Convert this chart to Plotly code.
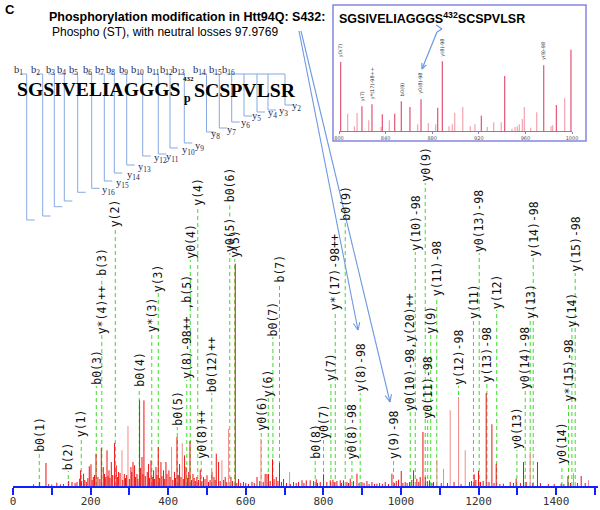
import math
import plotly.graph_objects as go

# ------------------------------------------------------------------ data
# main spectrum (m/z, intensity in arbitrary units)
red_mz = [53, 68.6, 85, 92, 100, 113, 122, 130, 143.4, 152, 160, 165, 171.7, 174.3, 177, 182, 185, 189, 193,
          196.6, 201, 204, 207, 210, 214, 219, 224, 227.6, 232.7, 236, 239, 242.3, 245, 247.4, 250, 253.4, 257,
          261.9, 266.2, 269, 272.2, 276, 283, 286.9, 290, 293, 300, 304, 306, 309.3, 313.4, 316, 319.6, 322,
          326.3, 329, 332.5, 335, 337.5, 341, 346, 349.5, 352, 355.7, 359, 362.4, 365, 368.6, 371, 374.5, 378,
          381.4, 384, 388.1, 391, 394.3, 397, 402, 405, 412, 416.5, 419, 422.7, 426, 429.4, 433, 439, 442.3,
          445.9, 450, 453, 456.2, 460, 463.9, 467, 470, 474, 478, 482.7, 487, 491, 495, 500, 504, 508, 512.9,
          518, 521, 524, 530, 534, 543, 547, 551, 561.9, 566, 573, 577, 581.4, 587, 594, 600, 607, 616, 622,
          629, 636, 645, 650, 654.6, 658.8, 663, 669, 673, 678.6, 683, 687, 692, 697.4, 705, 715, 723, 730, 736,
          745, 750, 756, 766, 774.8, 781.7, 785, 792, 800.5, 809, 817.8, 824.7, 828, 835, 843.6, 847, 852, 860.8,
          865, 869.3, 877.8, 886.6, 892, 899.5, 905, 912.4, 918, 925.3, 932, 938, 945, 952, 959.5, 968, 976.8,
          983, 988, 993.8, 1000.8, 1005, 1011, 1016, 1022, 1028, 1032.5, 1041, 1046, 1049.7, 1056.7, 1062.6,
          1068, 1073.7, 1080, 1084, 1104, 1120, 1137, 1155, 1176.8, 1182, 1188.9, 1193, 1200, 1205, 1212,
          1219.8, 1227, 1234.5, 1240, 1245.6, 1255, 1264, 1281.7, 1290, 1297, 1308, 1316, 1323, 1340, 1352,
          1360, 1380, 1395, 1413, 1420, 1430.4, 1437, 1455, 1464.7, 1475]
red_int = [1.7, 4, 23, 2, 1.5, 3.3, 1.7, 2, 5, 4, 3, 4, 7.3, 15.7, 5, 12.3, 6, 4, 8,
           19.7, 21.7, 6, 9, 11, 32.3, 9, 7, 38, 19, 12, 9, 35.7, 10, 15.7, 8, 24, 11,
           43, 20.7, 9, 14, 13, 6, 12, 8, 11, 7, 19, 14, 24, 20.7, 9, 12, 7,
           85.7, 18, 29, 12, 85.7, 10, 14, 22, 8, 25.7, 9, 15.7, 7, 19, 11, 39, 8,
           24, 10, 15.7, 7, 24, 12, 15.7, 9, 6, 14, 8, 49, 11, 22, 9, 7, 30.7,
           19, 8, 14, 45, 6, 12, 8, 5, 9, 6, 16.3, 5, 9, 7, 10.7, 4, 6, 14,
           9, 6, 32.3, 24, 5, 6, 9, 4, 9, 5, 222.4, 3, 7, 3, 4, 3, 2, 4, 3,
           9, 5, 4, 12, 12, 12, 5, 26.7, 7, 9, 5, 23, 4, 7, 3, 2, 4, 3, 4,
           5.7, 3, 5.7, 5.7, 5, 6.7, 3, 4, 11.7, 4, 5.7, 6.3, 4, 5, 5.7, 3, 5.7, 4,
           3, 7.3, 5, 12.3, 3, 4, 3, 5, 2, 4, 2, 2.3, 3, 2, 4, 2, 12.3,
           3, 5, 6.3, 15, 3, 4, 3, 4, 6, 15.7, 7.3, 4, 9, 54, 9,
           5, 5.7, 3, 4, 3, 3, 4, 2, 4, 5, 11.7, 6, 15, 4, 5,
           93, 4, 61.7, 3, 22.3, 2, 2.3, 4, 3, 7.3, 3, 24, 4, 3, 24,
           3, 2, 2, 2.3, 2, 9.7, 3, 3, 10, 3]
pink_mz = [280.9, 296.4, 408.8, 436.3, 538.6, 555.7, 639.2, 713, 1092.8, 1109.8, 1127, 1148.5, 1165.7,
           1333.2, 1444.9, 1483.5]
pink_int = [35.7, 60, 39, 43, 25.7, 57.3, 47.3, 14, 26.3, 17.3, 75.7, 89, 35.7, 34, 13, 5.7]

# matched-ion annotations
ion_text = ["b0(1)", "b(2)", "y(1)", "b0(3)", "y*(4)++", "b(3)", "y(2)", "b0(4)", "y*(3)", "y(3)",
            "b0(5)", "y(8)-98++ ,b(5)", "y0(4)", "y(4)", "y0(8)++", "b0(12)++", "y0(5)", "b0(6)", "y(5)",
            "y0(6)", "y(6)", "b0(7)", "b(7)", "b0(8)", "y0(7)", "y(7)", "y*(17)-98++", "b0(9)",
            "y0(8)-98", "y(8)-98", "y(9)-98", "y0(10)-98,y(20)++", "y(10)-98", "y0(9)", "y0(11)-98",
            "y(9)", "y(11)-98", "y(12)-98", "y(11)", "y0(13)-98", "y(13)-98", "y(12)", "y0(13)",
            "y0(14)-98", "y(13)", "y(14)-98", "y0(14)", "y*(15)-98", "y(14)", "y(15)-98"]
ion_mz = [67.8, 142.5, 176, 214.7, 228.9, 228.9, 263.7, 325.5, 357.7, 374.5,
          423.5, 448, 457, 476.3, 485.3, 512.4, 558.8, 558.8, 571.6,
          640, 658, 670, 687, 779, 800.5, 819.6, 830.7, 856.4,
          873.7, 895, 981, 1024, 1036.9, 1062.6, 1069,
          1076.8, 1092.3, 1148.5, 1187, 1201.8, 1221.6, 1246.9, 1299,
          1320.4, 1333.2, 1341, 1415, 1432, 1440.7, 1449.2]

# inset spectrum (zoom 800-1000)
inset_mz = [801.4, 807.4, 813.2, 815.5, 819.7, 825.5, 828.3, 836.1, 837.2, 843.2, 847.8, 853.5, 860.9,
            867.5, 870.4, 876.7, 883.0, 884.7, 888.7, 894.4, 897.3, 899.3, 906.2, 912.7, 916.7, 922.2,
            927.3, 932.8, 939.3, 942.2, 948.5, 951.1, 953.1, 954.8, 957.4, 959.1, 964.5, 969.7, 975.7,
            982.0, 983.4, 986.6, 993.7, 999.1]
inset_int = [207, 52, 14, 54, 74, 32, 80, 12, 50, 32, 52, 89, 72,
             20, 95, 24, 20, 70, 209, 14, 20, 55, 72, 14, 20, 46,
             12, 26, 26, 165, 7, 12, 14, 20, 36, 72, 10, 56, 197,
             14, 17, 78, 98, 244]
inset_light = [807.4, 813.2, 815.5, 825.5, 836.1, 843.2, 867.5, 876.7, 883.0, 894.4, 897.3, 899.3,
               906.2, 912.7, 916.7, 927.3, 932.8, 939.3, 948.5, 951.1, 953.1, 954.8, 957.4, 959.1,
               964.5, 969.7, 982.0, 983.4, 993.7]
inset_lab_text = ["y0(7)", "y(7)", "y*(17)-98++", "b0(9)", "y0(8)-98", "y(8)-98", "y(9)-98"]
inset_lab_mz = [801.4, 819.7, 828.3, 853.5, 870.4, 888.7, 975.7]

main_ticks = [0, 200, 400, 600, 800, 1000, 1200, 1400]
main_ticktext = ["0", "200", "400", "600", "800", "1000", "1200", "1400"]
main_minor_ticks = [100, 300, 500, 700, 900, 1100, 1300, 1500]
inset_ticks = [800, 840, 880, 920, 960, 1000]
inset_ticktext = ["800", "840", "880", "920", "960", "1000"]

peptide_left = "SGSIVELIAGGGS"
peptide_right = "SCSPVLSR"
site_no = "432"
b_numbers = list(range(1, 17))
y_numbers = [16, 15, 14, 13, 12, 11, 10, 9, 8, 7, 6, 5, 4, 3, 2]

# ------------------------------------------------------------------ layout helpers
W, H = 600, 510
ML, MR, MT, MB = 13, 2, 10, 24
PW = W - ML - MR
PH = H - MT - MB


def X(px):
    return (px - ML) / PW


def Y(py):
    return (H - MB - py) / PH


# label bottoms (pixel rows) for the ion annotations
ion_label_bottom = [453, 471, 438, 386, 335, 277, 228, 388, 333, 293,
                    427, 380, 260, 207, 460, 393, 253, 203, 259,
                    432, 398, 337, 284, 460, 440, 382, 311, 222,
                    460, 393, 460, 412, 252, 183, 420,
                    335, 297, 386, 320, 253, 383, 310, 450,
                    390, 320, 258, 465, 403, 328, 273]
CHAR = 6.9

fig = go.Figure()

# dashed green guide lines
gx, gy = [], []
for i, (t, m, b) in enumerate(zip(ion_text, ion_mz, ion_label_bottom)):
    base = H - MB - b
    start = 0
    for j, (t2, m2, b2) in enumerate(zip(ion_text, ion_mz, ion_label_bottom)):
        if j != i and m2 == m and b2 > b:
            start = max(start, (H - MB - b2) + CHAR * len(t2) + 2)
    gx += [m, m, None]
    gy += [start, base, None]
fig.add_trace(go.Scatter(x=gx, y=gy, mode="lines", hoverinfo="skip",
                         line=dict(color="#3fdc2a", width=1, dash="4px,3px")))


def sticks(mz, it):
    xs, ys = [], []
    for m, v in zip(mz, it):
        xs += [m, m, None]
        ys += [0, v, None]
    return xs, ys


xs, ys = sticks(pink_mz, pink_int)
fig.add_trace(go.Scatter(x=xs, y=ys, mode="lines", line=dict(color="#f28c8c", width=1), hoverinfo="skip"))
xs, ys = sticks(red_mz, red_int)
fig.add_trace(go.Scatter(x=xs, y=ys, mode="lines", line=dict(color="#ee1010", width=1), hoverinfo="skip"))

# inset sticks
dk = [(m, v) for m, v in zip(inset_mz, inset_int) if m not in inset_light]
lt = [(m, v) for m, v in zip(inset_mz, inset_int) if m in inset_light]
xs, ys = sticks([a for a, _ in lt], [b for _, b in lt])
fig.add_trace(go.Scatter(x=xs, y=ys, mode="lines", line=dict(color="#f4a9b8", width=1.3), hoverinfo="skip",
                         xaxis="x2", yaxis="y2"))
xs, ys = sticks([a for a, _ in dk], [b for _, b in dk])
fig.add_trace(go.Scatter(x=xs, y=ys, mode="lines", line=dict(color="#e5607f", width=1.3), hoverinfo="skip",
                         xaxis="x2", yaxis="y2"))

ann = []
for t, m, b in zip(ion_text, ion_mz, ion_label_bottom):
    ann.append(dict(x=m, y=H - MB - b, xref="x", yref="y", text=t, showarrow=False, textangle=-90,
                    xanchor="center", yanchor="bottom", borderpad=0,
                    font=dict(family="DejaVu Sans Mono", size=11.5, color="#111")))

for t, m in zip(inset_lab_text, inset_lab_mz):
    v = inset_int[inset_mz.index(m)]
    ann.append(dict(x=m, y=v + 12, xref="x2", yref="y2", text=t, showarrow=False, textangle=-90,
                    xanchor="center", yanchor="bottom", borderpad=0,
                    font=dict(family="DejaVu Sans", size=5, color="#333")))

# titles
ann.append(dict(x=X(3), y=Y(9), xref="paper", yref="paper", text="<b>C</b>", showarrow=False,
                xanchor="left", yanchor="middle", font=dict(family="Liberation Sans", size=13, color="#000")))
ann.append(dict(x=X(47), y=Y(17), xref="paper", yref="paper",
                text="<b>Phosphorylation modification in Htt94Q: S432:</b>", showarrow=False,
                xanchor="left", yanchor="middle", font=dict(family="Liberation Sans", size=12.5, color="#000")))
ann.append(dict(x=X(50), y=Y(32), xref="paper", yref="paper",
                text="Phospho (ST), with neutral losses 97.9769", showarrow=False,
                xanchor="left", yanchor="middle", font=dict(family="Liberation Sans", size=12, color="#000")))

# peptide
ann.append(dict(x=X(15), y=Y(90), xref="paper", yref="paper", text="<b>" + peptide_left + "</b>",
                showarrow=False, xanchor="left", yanchor="middle",
                font=dict(family="Liberation Serif", size=19.6, color="#000")))
ann.append(dict(x=X(192), y=Y(90), xref="paper", yref="paper", text="<b>" + peptide_right + "</b>",
                showarrow=False, xanchor="left", yanchor="middle",
                font=dict(family="Liberation Serif", size=19.8, color="#000")))
ann.append(dict(x=X(188.5), y=Y(79), xref="paper", yref="paper", text="<b>" + site_no + "</b>",
                showarrow=False, xanchor="center", yanchor="middle",
                font=dict(family="Liberation Serif", size=7, color="#000")))
ann.append(dict(x=X(187.5), y=Y(98), xref="paper", yref="paper", text="<b>p</b>",
                showarrow=False, xanchor="center", yanchor="middle",
                font=dict(family="Liberation Serif", size=12, color="#000")))

# fragment map
MAPC = "#86a9e2"
LABC = "#1c2650"
frag_vx = [26.7, 42.7, 54.3, 64.3, 77.7, 91.7, 104.3, 114.3, 126.7, 142.7, 158.3, 170, 184.3, 206.5,
           219.3, 231.7, 244, 257, 268, 285]
frag_vbot = [220, 216, 206.7, 201, 192.3, 188.3, 181, 173, 165, 156, 154, 148, 143, 132, 128, 122, 116,
             112, 110, 105]
b_lab_x = [18.5, 35, 50, 61, 73, 87, 99, 110, 123, 137.5, 153, 166, 178.5, 200, 215, 228]
y_lab_pos = [(108.5, 190), (122, 183), (133, 175), (144.5, 167), (160, 158), (172, 157), (188, 151),
             (199.5, 146), (215, 134), (231, 130), (245, 123), (256.5, 117), (272, 113), (283, 111.5),
             (296, 106.5)]
TOPY = 74
shapes = []


def seg(x0, y0, x1, y1, color=MAPC, w=1):
    shapes.append(dict(type="line", xref="paper", yref="paper", x0=X(x0), y0=Y(y0), x1=X(x1), y1=Y(y1),
                       line=dict(color=color, width=w)))


for k, (vx, vb) in enumerate(zip(frag_vx, frag_vbot)):
    seg(vx, TOPY, vx, vb)
    seg(vx, vb, vx + 8, vb)
for k, n in enumerate(b_numbers):
    vx = frag_vx[k]
    seg(vx - 6, TOPY, vx, TOPY)
    ann.append(dict(x=X(b_lab_x[k]), y=Y(70), xref="paper", yref="paper",
                    text="b<sub>%d</sub>" % n, showarrow=False, xanchor="center", yanchor="middle",
                    font=dict(family="Liberation Serif", size=10.5, color=LABC)))
seg(frag_vx[15], TOPY, frag_vx[19], TOPY)
for (lx, ly), n in zip(y_lab_pos, y_numbers):
    ann.append(dict(x=X(lx), y=Y(ly), xref="paper", yref="paper",
                    text="y<sub>%d</sub>" % n, showarrow=False, xanchor="center", yanchor="middle",
                    font=dict(family="Liberation Serif", size=10.5, color=LABC)))

# inset frame and title
shapes.append(dict(type="rect", xref="paper", yref="paper", x0=X(333), y0=Y(141), x1=X(586), y1=Y(5),
                   line=dict(color="#8585e0", width=1.5), fillcolor="rgba(0,0,0,0)"))
ann.append(dict(x=X(337), y=Y(18), xref="paper", yref="paper",
                text="<b>SGSIVELIAGGGS<sup>432</sup>SCSPVLSR</b>", showarrow=False,
                xanchor="left", yanchor="middle", font=dict(family="Liberation Sans", size=12.5, color="#000")))

# arrows
ARC = "#6b98e0"


def polyarrow(pts, color=ARC, w=1.1, head=8):
    for (a, b), (c, d) in zip(pts[:-1], pts[1:]):
        seg(a, b, c, d, color, w)
    (a, b), (c, d) = pts[-2], pts[-1]
    ang = math.atan2(d - b, c - a)
    for s in (1, -1):
        th = ang + math.pi - s * math.radians(24)
        seg(c, d, c + head * math.cos(th), d + head * math.sin(th), color, w)


polyarrow([(299, 31), (358, 330)])
polyarrow([(301, 31), (390, 402)])
polyarrow([(436, 25), (442, 29), (437, 32), (422, 69)], w=1.2, head=6)

fig.update_layout(
    width=W, height=H, margin=dict(l=ML, r=MR, t=MT, b=MB, autoexpand=False),
    paper_bgcolor="white", plot_bgcolor="white", showlegend=False,
    annotations=ann, shapes=shapes,
    xaxis=dict(range=[0, 1508], showgrid=False, zeroline=False, showline=True, linecolor="#1020ff",
               linewidth=1.5, ticks="outside", tickcolor="#1020ff", ticklen=7, tickwidth=1.5,
               tickvals=main_ticks, ticktext=main_ticktext, ticklabelstandoff=-3, automargin=False,
               minor=dict(tickvals=main_minor_ticks, ticks="outside", ticklen=7, tickwidth=1.5,
                          tickcolor="#1020ff"),
               tickfont=dict(family="DejaVu Sans Mono", size=11, color="#333")),
    yaxis=dict(range=[0, PH], visible=False, domain=[0, 1], automargin=False),
    xaxis2=dict(domain=[X(339), X(572)], range=[800, 1000], anchor="y2", showgrid=False, zeroline=False,
                showline=True, linecolor="#7b7be8", linewidth=1, ticks="outside", ticklen=2,
                tickcolor="#7b7be8", tickvals=inset_ticks, ticktext=inset_ticktext, automargin=False,
                tickfont=dict(family="DejaVu Sans", size=5, color="#555")),
    yaxis2=dict(domain=[Y(131), Y(31)], range=[0, 300], visible=False, anchor="x2"),
)

fig.write_html("out.html", config={"displayModeBar": False},
               post_script="document.body.style.margin='0';")
